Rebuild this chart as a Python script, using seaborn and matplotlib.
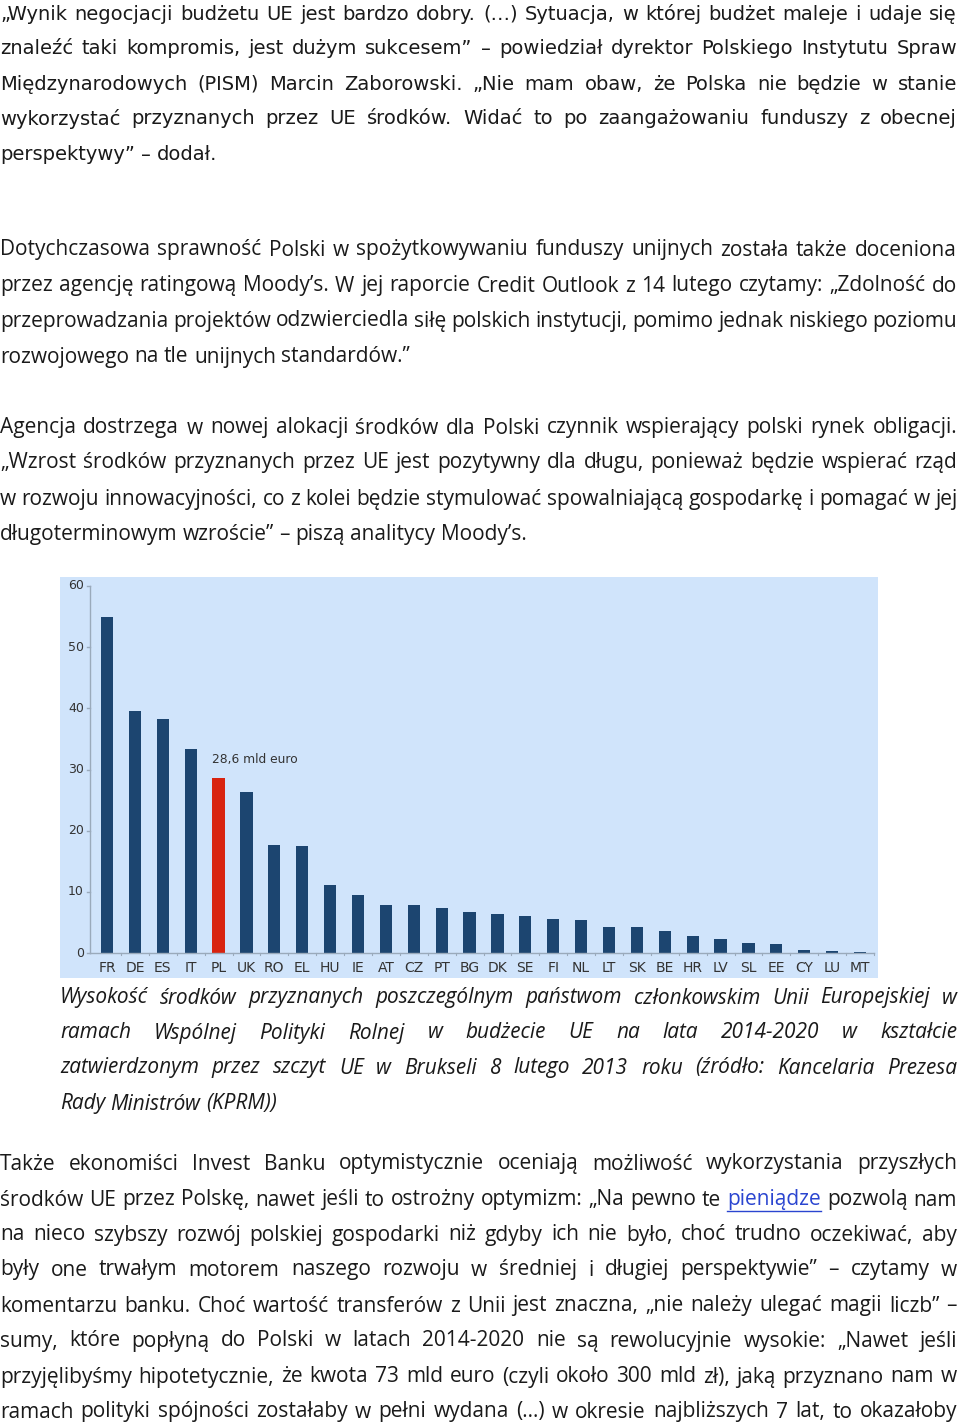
import matplotlib
matplotlib.use("Agg")
import matplotlib.pyplot as plt
import seaborn as sns
import pandas as pd
from matplotlib.lines import Line2D

countries = ["FR","DE","ES","IT","PL","UK","RO","EL","HU","IE","AT","CZ","PT","BG","DK",
             "SE","FI","NL","LT","SK","BE","HR","LV","SL","EE","CY","LU","MT"]
values = [54.9,39.5,38.2,33.3,28.6,26.3,17.6,17.5,11.1,9.5,7.9,7.8,7.3,6.7,6.3,
          6.1,5.5,5.4,4.3,4.2,3.6,2.8,2.3,1.7,1.5,0.5,0.3,0.15]
yticks = [0,10,20,30,40,50,60]
annotation = "28,6 mld euro"

W, H = 960, 1427
fig = plt.figure(figsize=(W/100, H/100), dpi=100)

# ---------- chart ----------
ax = fig.add_axes([60/W, 1-978/H, (878-60)/W, (978-577)/H])
ax.set_facecolor("#d0e4fb")
df = pd.DataFrame({"c": countries, "v": values,
                   "h": ["pl" if c == "PL" else "o" for c in countries]})
sns.barplot(data=df, x="c", y="v", hue="h", palette={"o": "#1c4570", "pl": "#d8230f"},
            dodge=False, width=0.44, legend=False, ax=ax, saturation=1)
n = len(countries)
step = (860-107)/(n-1)
ax.set_xlim(-47/step, n-1+18/step)
ax.set_ylim(-25/6.117, 60+9/6.117)
for s in ax.spines.values():
    s.set_visible(False)
ax.set_xticks([]); ax.set_yticks([])
ax.set_xlabel(""); ax.set_ylabel("")
xa = -17/step
ax.plot([xa, xa], [0, 60], color="#9aaabb", lw=1)
ax.plot([xa, n-1+14/step], [0, 0], color="#9aaabb", lw=1)
for t in yticks:
    ax.text(xa-6/step, t, str(t), ha="right", va="center", fontsize=9, color="#333333")
    ax.plot([xa-3/step, xa], [t, t], color="#9aaabb", lw=1)
for i, c in enumerate(countries):
    ax.text(i, -2.4, c, ha="center", va="center", fontsize=10, color="#333333")
    ax.plot([i+0.5, i+0.5], [0, -0.4], color="#9aaabb", lw=0.8)
ax.text(4-0.25, 30.6, annotation, ha="left", va="bottom", fontsize=8.8, color="#333333")

# ---------- text ----------
renderer = fig.canvas.get_renderer()

def line(txt, y, x0=0, x1=957, justify=True, family="DejaVu Sans", size=13,
         style="normal", links=()):
    words = txt.split(" ")
    objs = []
    for w in words:
        col = "#2a45d0" if w in links else "#1a1a1a"
        t = fig.text(0, 1-y/H, w, ha="left", va="center", fontsize=size,
                     family=family, style=style, color=col)
        objs.append(t)
    widths = [o.get_window_extent(renderer).width for o in objs]
    a = fig.text(0, 0, "a a", fontsize=size, family=family)
    b = fig.text(0, 0, "aa", fontsize=size, family=family)
    sp = a.get_window_extent(renderer).width - b.get_window_extent(renderer).width
    a.remove(); b.remove()
    if justify and len(words) > 1:
        gap = max((x1 - x0 - sum(widths)) / (len(words)-1), 2)
    else:
        gap = sp
    x = x0
    for o, w, wd in zip(objs, words, widths):
        o.set_x(x/W)
        if w in links:
            fig.add_artist(Line2D([x/W, (x+wd)/W], [1-(y+11)/H]*2, color="#2a45d0", lw=1))
        x += wd + gap

p1 = ["„Wynik negocjacji budżetu UE jest bardzo dobry. (…) Sytuacja, w której budżet maleje i udaje się",
      "znaleźć taki kompromis, jest dużym sukcesem” – powiedział dyrektor Polskiego Instytutu Spraw",
      "Międzynarodowych (PISM) Marcin Zaborowski. „Nie mam obaw, że Polska nie będzie w stanie",
      "wykorzystać przyznanych przez UE środków. Widać to po zaangażowaniu funduszy z obecnej",
      "perspektywy” – dodał."]
p2 = ["Dotychczasowa sprawność Polski w spożytkowywaniu funduszy unijnych została także doceniona",
      "przez agencję ratingową Moody’s. W jej raporcie Credit Outlook z 14 lutego czytamy: „Zdolność do",
      "przeprowadzania projektów odzwierciedla siłę polskich instytucji, pomimo jednak niskiego poziomu",
      "rozwojowego na tle unijnych standardów.”"]
p3 = ["Agencja dostrzega w nowej alokacji środków dla Polski czynnik wspierający polski rynek obligacji.",
      "„Wzrost środków przyznanych przez UE jest pozytywny dla długu, ponieważ będzie wspierać rząd",
      "w rozwoju innowacyjności, co z kolei będzie stymulować spowalniającą gospodarkę i pomagać w jej",
      "długoterminowym wzroście” – piszą analitycy Moody’s."]
cap = ["Wysokość środków przyznanych poszczególnym państwom członkowskim Unii Europejskiej w",
       "ramach Wspólnej Polityki Rolnej w budżecie UE na lata 2014-2020 w kształcie",
       "zatwierdzonym przez szczyt UE w Brukseli 8 lutego 2013 roku (źródło: Kancelaria Prezesa",
       "Rady Ministrów (KPRM))"]
p4 = ["Także ekonomiści Invest Banku optymistycznie oceniają możliwość wykorzystania przyszłych",
      "środków UE przez Polskę, nawet jeśli to ostrożny optymizm: „Na pewno te pieniądze pozwolą nam",
      "na nieco szybszy rozwój polskiej gospodarki niż gdyby ich nie było, choć trudno oczekiwać, aby",
      "były one trwałym motorem naszego rozwoju w średniej i długiej perspektywie” – czytamy w",
      "komentarzu banku. Choć wartość transferów z Unii jest znaczna, „nie należy ulegać magii liczb” –",
      "sumy, które popłyną do Polski w latach 2014-2020 nie są rewolucyjnie wysokie: „Nawet jeśli",
      "przyjęlibyśmy hipotetycznie, że kwota 73 mld euro (czyli około 300 mld zł), jaką przyznano nam w",
      "ramach polityki spójności zostałaby w pełni wydana (…) w okresie najbliższych 7 lat, to okazałoby"]

def para(lines, ys, last_justify=False, **kw):
    for i, (l, y) in enumerate(zip(lines, ys)):
        j = (i < len(lines)-1) or last_justify
        line(l, y, justify=j, **kw)

para(p1, [14, 49, 84, 119, 155], family="DejaVu Sans", size=14)
para(p2, [250, 286, 321, 357], family="Open Sans", size=15)
para(p3, [428, 463, 499, 535], family="Open Sans", size=15)
para(cap, [998, 1033, 1068, 1104], family="Open Sans", size=15, style="italic", x0=60)
para(p4, [1164, 1200, 1235, 1270, 1306, 1341, 1377, 1412], last_justify=True,
     family="Open Sans", size=15, links=("pieniądze",))

fig.savefig("out.png", dpi=100, facecolor="white")
